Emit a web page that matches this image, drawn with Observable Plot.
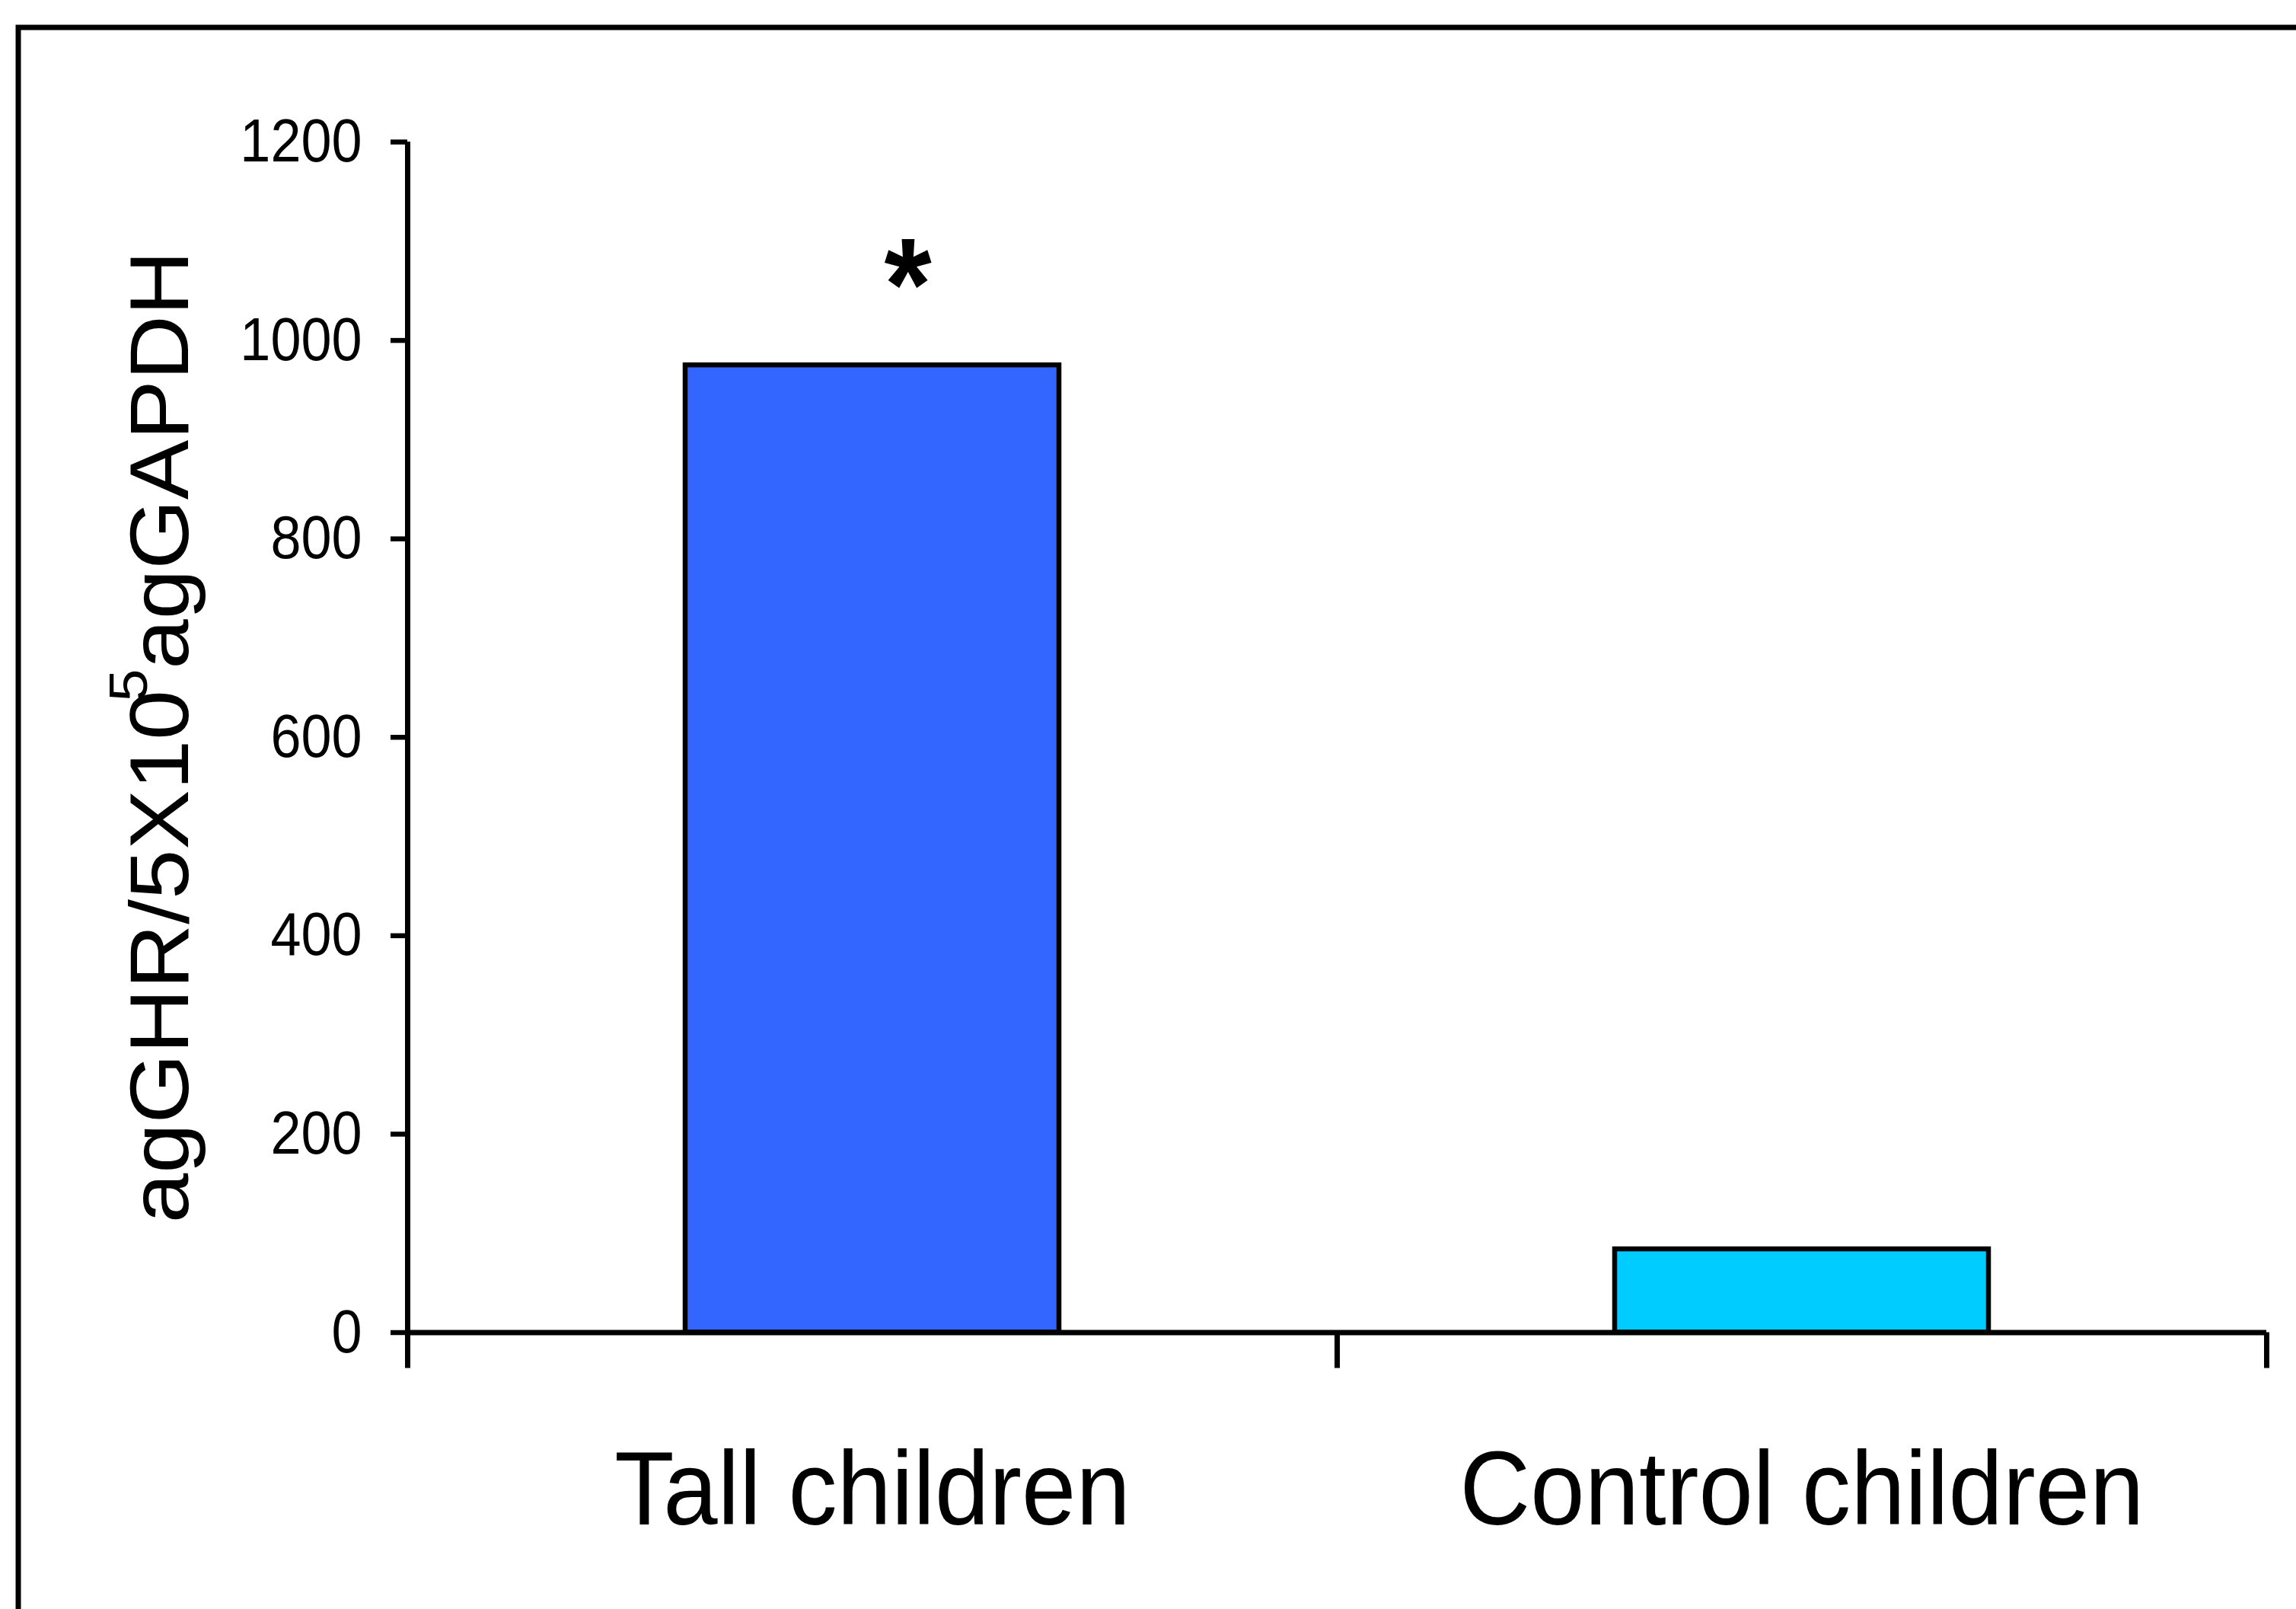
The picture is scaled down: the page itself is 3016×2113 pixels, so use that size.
<!DOCTYPE html>
<html>
<head>
<meta charset="utf-8">
<script src="https://cdn.jsdelivr.net/npm/d3@7"></script>
<script src="https://cdn.jsdelivr.net/npm/@observablehq/plot@0.6"></script>
<style>
  html, body { margin: 0; padding: 0; background: #ffffff; }
  #chart { position: absolute; left: 0; top: 0; }
</style>
</head>
<body>
<div id="chart"></div>
<script>
// ---- data ----
const categories = ["Tall children", "Control children"];
const values = [975, 84];
const barColors = ["#3366FF", "#00CCFF"];
const yTicks = [0, 200, 400, 600, 800, 1000, 1200];
const annotationCategories = ["Tall children"];
const annotationValues = [975];
const annotationMarks = ["*"];
const yLabelMain = "agGHR/5X10";
const yLabelSup = "5";
const yLabelEnd = "agGAPDH";

const data = categories.map((c, i) => ({category: c, value: values[i]}));
const annotations = annotationCategories.map((c, i) => ({category: c, value: annotationValues[i], mark: annotationMarks[i]}));

const W = 3016, H = 2113;
const mL = 535, mR = 39, mT = 186, mB = 363.5;
const step = (W - mL - mR) / categories.length;
const lastCat = categories[categories.length - 1];

const chart = Plot.plot({
  width: W,
  height: H,
  marginLeft: mL,
  marginRight: mR,
  marginTop: mT,
  marginBottom: mB,
  style: {fontFamily: "'Liberation Sans', Arial, sans-serif", background: "#ffffff", color: "#000000", overflow: "visible"},
  x: {domain: categories, paddingInner: 0.598, paddingOuter: 0.299, label: null},
  y: {domain: [0, 1200], label: null},
  color: {domain: categories, range: barColors},
  marks: [
    Plot.barY(data, {x: "category", y: "value", fill: "category", stroke: "#000000", strokeWidth: 6.5}),
    Plot.ruleY([0], {stroke: "#000000", strokeWidth: 7}),
    // y axis line + left boundary tick
    Plot.ruleX([categories[0]], {dx: -step / 2, stroke: "#000000", strokeWidth: 7, insetBottom: -47}),
    // category boundary ticks
    Plot.ruleX(categories.slice(1), {dx: -step / 2, y1: 0, y2: 0, stroke: "#000000", strokeWidth: 7, insetBottom: -47}),
    Plot.ruleX([lastCat], {dx: step / 2, y1: 0, y2: 0, stroke: "#000000", strokeWidth: 7, insetBottom: -47}),
    Plot.axisY({ticks: yTicks, tickSize: 22, tickPadding: 38, fontSize: 80, strokeWidth: 6.5, label: null, tickFormat: d => String(d)}),
    Plot.axisX({tickSize: 0, tickPadding: 154, fontSize: 138, label: null}),
    Plot.text(annotations, {x: "category", y: "value", text: "mark", fontSize: 172, fontWeight: "bold", dx: 46.5, dy: -102})
  ]
});

document.getElementById("chart").appendChild(chart);

const svg = d3.select(chart);
// horizontal compression of horizontal text to match the reference aspect
svg.selectAll("text").each(function() {
  const t = this.getAttribute("transform") || "";
  const isTick = this.closest('[aria-label="y-axis tick label"]') !== null;
  this.setAttribute("transform", (t + (isTick ? " scale(0.9,1)" : " scale(0.93,1)")).trim());
});

// outer frame
svg.insert("rect", ":first-child")
  .attr("x", 24).attr("y", 36)
  .attr("width", 3200).attr("height", 2300)
  .attr("fill", "none").attr("stroke", "#000000").attr("stroke-width", 7);

// rotated y-axis label with superscript
const yMid = (chart.scale("y").apply(0) + chart.scale("y").apply(1200)) / 2;
const lab = svg.append("text")
  .attr("transform", `translate(247,${yMid}) rotate(-90) scale(1.08,1)`)
  .attr("text-anchor", "middle")
  .attr("font-family", "'Liberation Sans', Arial, sans-serif")
  .attr("font-size", 109)
  .attr("fill", "#000000");
lab.append("tspan").text(yLabelMain);
lab.append("tspan").attr("font-size", 71).attr("dy", -54).attr("dx", -14).text(yLabelSup);
lab.append("tspan").attr("dy", 54).text(yLabelEnd);
</script>
</body>
</html>
